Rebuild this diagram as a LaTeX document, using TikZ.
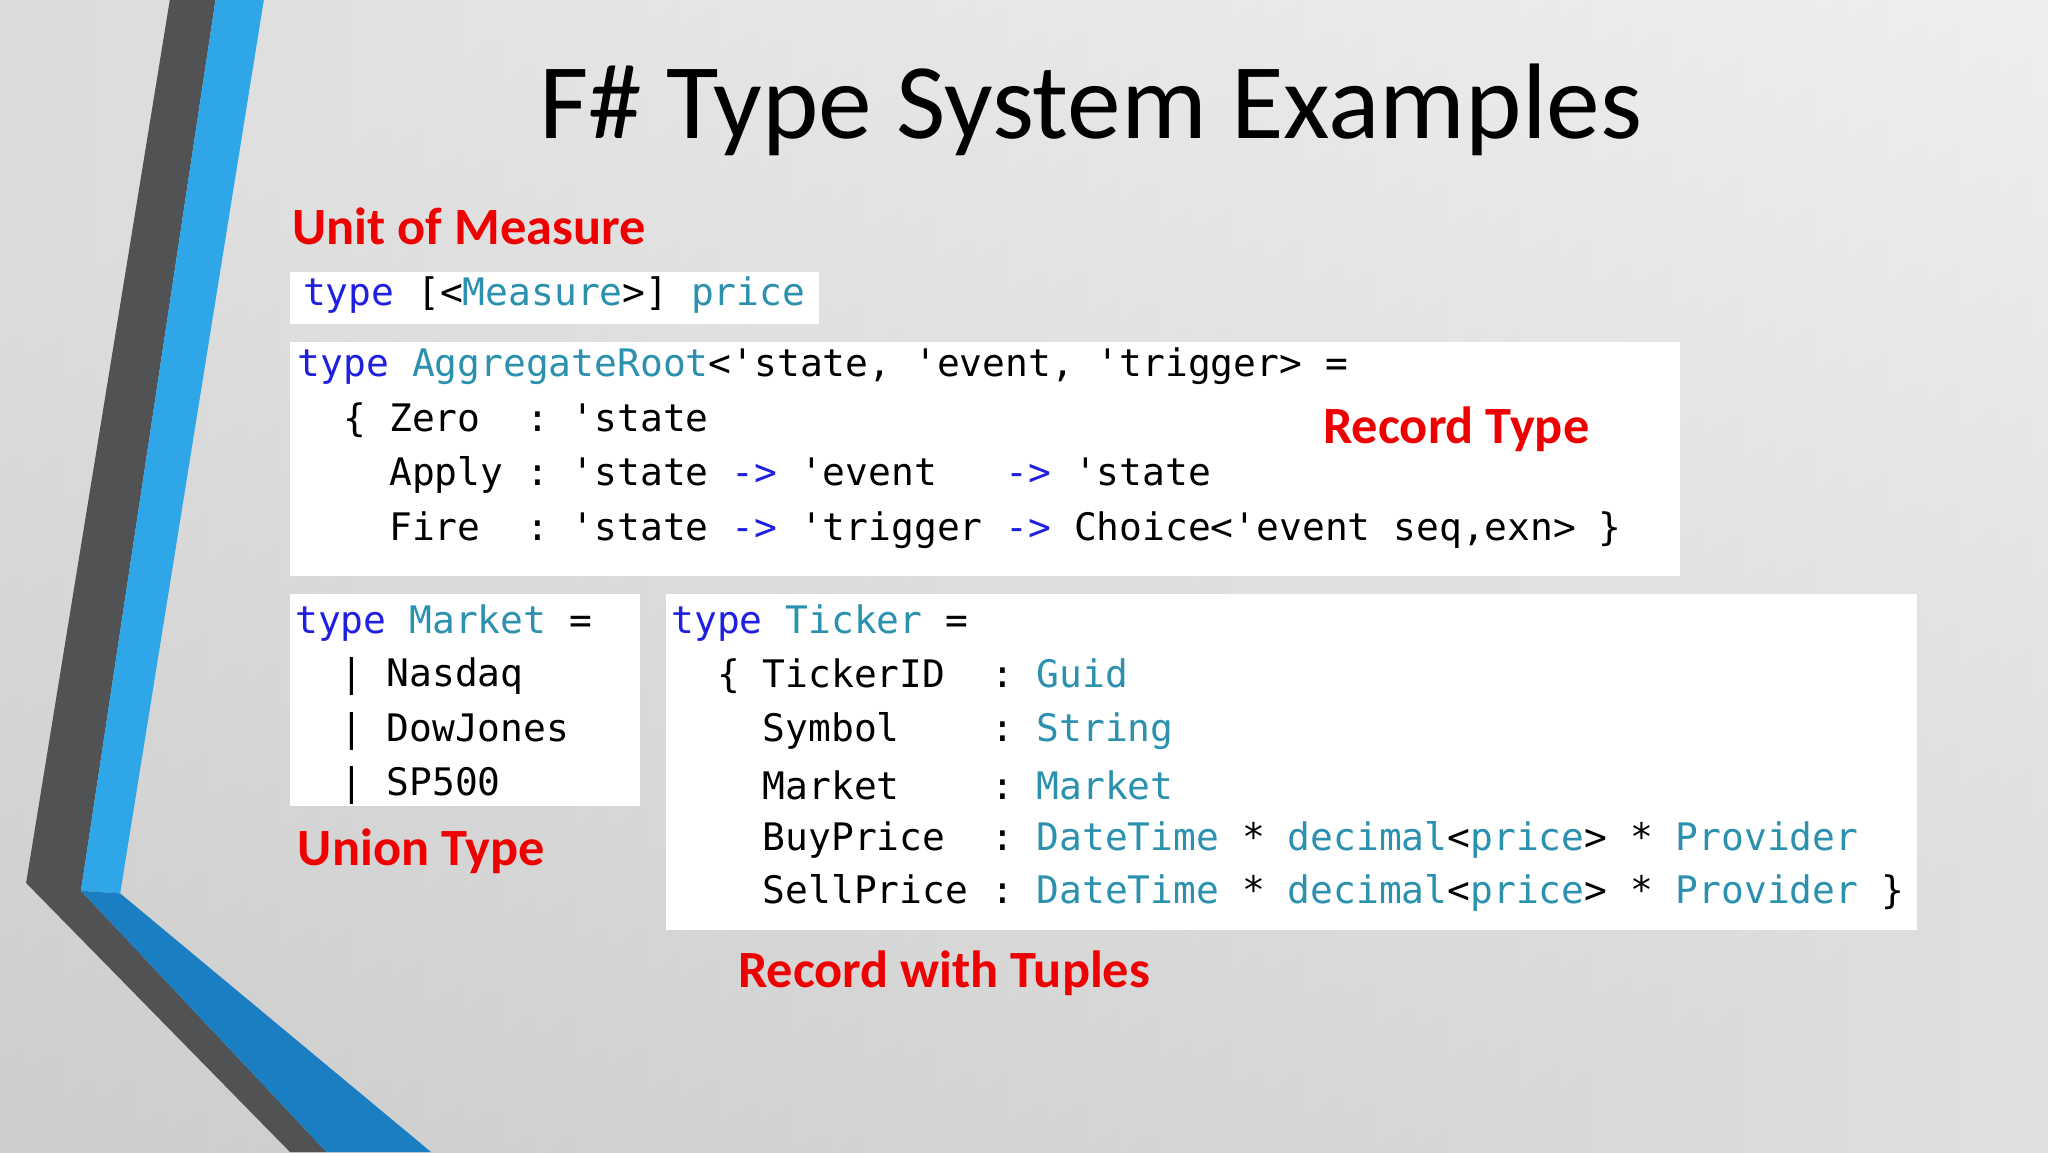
\documentclass[tikz,border=0pt]{standalone}
\usepackage{fontspec}
\setmainfont{Carlito}
\setmonofont{DejaVu Sans Mono}
\definecolor{kw}{HTML}{1F1FE0}
\definecolor{ty}{HTML}{2B91AF}
\definecolor{lab}{HTML}{EE0000}
\definecolor{dk}{HTML}{505254}
\definecolor{bl}{HTML}{2EA6E8}
\definecolor{bl2}{HTML}{1A7FC2}
\newcommand{\K}[1]{\textcolor{kw}{#1}}
\newcommand{\T}[1]{\textcolor{ty}{#1}}
\begin{document}
\begin{tikzpicture}[x=0.1cm,y=-0.1cm,
  codebox/.style={fill=white,draw=none},
  codeline/.style={anchor=west,inner sep=0pt,font=\ttfamily\fontsize{82.6}{90}\selectfont},
  label/.style={anchor=west,inner sep=0pt,text=lab,font=\bfseries\fontsize{114}{130}\selectfont}]
\useasboundingbox (0,0) rectangle (1568,882);
\shade[top color=white!96!gray, bottom color=black!30, shading angle=30] (0,0) rectangle (1568,882);
\shade[left color=black!22, right color=white, opacity=0.6] (0,0) rectangle (1568,882);
% left decoration
\fill[dk] (130,0) -- (165,0) -- (62,682) -- (250,882) -- (222,882) -- (20,676) -- cycle;
\fill[bl] (165,0) -- (202,0) -- (92,684) -- (62,682) -- cycle;
\fill[bl2] (62,682) -- (92,684) -- (330,882) -- (250,882) -- cycle;
% title
\node[inner sep=0pt,font=\fontsize{234}{250}\selectfont] (title) at (835,84) {F\# Type System Examples};
% boxes
\fill[codebox] (222,208) rectangle (627,248);
\fill[codebox] (222,262) rectangle (1286,441);
\fill[codebox] (222,455) rectangle (490,617);
\fill[codebox] (510,455) rectangle (1468,712);
% labels
\node[label] (l1) at (224,173) {Unit of Measure};
\node[label] (l2) at (1013,329) {Record Type};
\node[label] (l3) at (228,652) {Union Type};
\node[label] (l4) at (565,745) {Record with Tuples};
% code
\node[codeline] (c1) at (232,226) {\K{type} [<\T{Measure}>] \T{price}};
\node[codeline] (a1) at (228,280) {\K{type} \T{AggregateRoot}<'state, 'event, 'trigger> =};
\node[codeline] (a2) at (228,322) {~~\{ Zero~~:~'state};
\node[codeline] (a3) at (228,364) {~~~~Apply~:~'state \K{->} 'event~~~\K{->} 'state};
\node[codeline] (a4) at (228,406) {~~~~Fire~~:~'state \K{->} 'trigger \K{->} Choice<'event seq,exn> \}};
\node[codeline] (m1) at (226,477) {\K{type} \T{Market} =};
\node[codeline] (m2) at (226,518) {~~| Nasdaq};
\node[codeline] (m3) at (226,560) {~~| DowJones};
\node[codeline] (m4) at (226,601) {~~| SP500};
\node[codeline] (t1) at (514,477) {\K{type} \T{Ticker} =};
\node[codeline] (t2) at (514,518) {~~\{ TickerID~~:~\T{Guid}};
\node[codeline] (t3) at (514,560) {~~~~Symbol~~~~:~\T{String}};
\node[codeline] (t4) at (514,601) {~~~~Market~~~~:~\T{Market}};
\node[codeline] (t5) at (514,643) {~~~~BuyPrice~~:~\T{DateTime} * \T{decimal}<\T{price}> * \T{Provider}};
\node[codeline] (t6) at (514,684) {~~~~SellPrice~:~\T{DateTime} * \T{decimal}<\T{price}> * \T{Provider} \}};
\end{tikzpicture}
\end{document}
